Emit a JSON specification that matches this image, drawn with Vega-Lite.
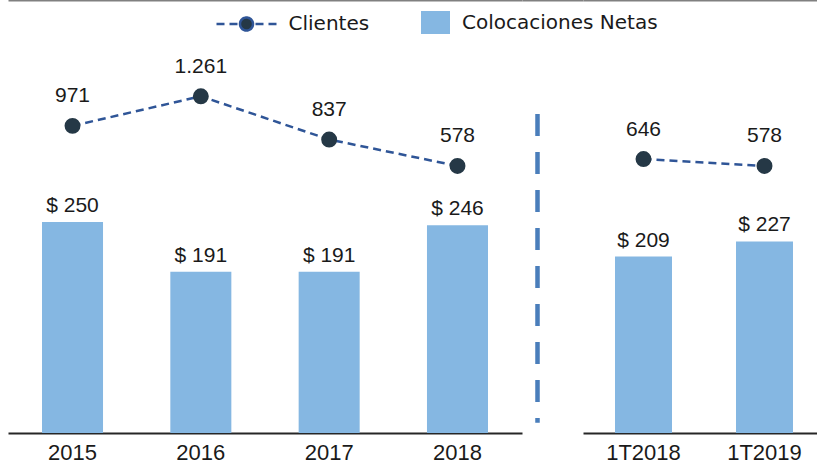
{
  "$schema": "https://vega.github.io/schema/vega-lite/v6.json",
  "padding": {"left": 8, "top": 0, "right": 0, "bottom": 0},
  "autosize": {"type": "pad"},
  "spacing": 0,
  "bounds": "flush",
  "config": {
    "view": {"stroke": null},
    "locale": {"number": {"decimal": ",", "thousands": ".", "grouping": [3], "currency": ["$ ", ""]}}
  },
  "datasets": {
    "anual": [
      {"periodo": "2015", "colocaciones": 250, "clientes": 971},
      {"periodo": "2016", "colocaciones": 191, "clientes": 1261},
      {"periodo": "2017", "colocaciones": 191, "clientes": 837},
      {"periodo": "2018", "colocaciones": 246, "clientes": 578}
    ],
    "trimestral": [
      {"periodo": "1T2018", "colocaciones": 209, "clientes": 646},
      {"periodo": "1T2019", "colocaciones": 227, "clientes": 578}
    ],
    "separador": [{"x": 15.5, "desde": 378, "hasta": 12}]
  },
  "hconcat": [
    {
      "width": 514,
      "height": 433,
      "data": {"name": "anual"},
      "resolve": {"scale": {"y": "independent"}, "axis": {"x": "independent"}},
      "layer": [
        {
          "mark": {"type": "bar"},
          "encoding": {
            "x": {"field": "periodo", "type": "nominal", "sort": null, "scale": {"paddingInner": 0.5245, "paddingOuter": 0.265},
                  "axis": {"orient": "bottom", "title": null, "labelAngle": 0, "ticks": false, "grid": false, "domainColor": "#262626", "domainWidth": 2, "labelFont": "Liberation Sans", "labelFontSize": 22, "labelColor": "#1a1a1a", "labelPadding": 9}},
            "y": {"field": "colocaciones", "type": "quantitative", "scale": {"domain": [0, 513], "nice": false}, "axis": null},
            "color": {"datum": "Colocaciones Netas", "type": "nominal", "scale": {"domain": ["Colocaciones Netas"], "range": ["#85B7E2"]},
                      "legend": {"orient": "none", "legendX": 415, "legendY": 10, "title": null, "symbolType": "M-1.16,-0.92H1.16V0.92H-1.16Z", "symbolSize": 625, "symbolStrokeWidth": 0, "labelFont": "DejaVu Sans", "labelFontSize": 20, "labelColor": "#1a1a1a", "labelOffset": 14, "labelLimit": 400}}
          }
        },
        {
          "mark": {"type": "text", "font": "Liberation Sans", "fontSize": 21, "color": "#1a1a1a", "baseline": "alphabetic", "dy": -10},
          "encoding": {
            "x": {"field": "periodo", "type": "nominal", "sort": null, "axis": null},
            "y": {"field": "colocaciones", "type": "quantitative", "scale": {"domain": [0, 513], "nice": false}, "axis": null},
            "text": {"field": "colocaciones", "type": "quantitative", "format": "$d"}
          }
        },
        {
          "mark": {"type": "line", "strokeWidth": 2.5, "strokeDash": [8, 5]},
          "encoding": {
            "x": {"field": "periodo", "type": "nominal", "sort": null,
                  "axis": {"orient": "top", "title": null, "labels": false, "ticks": false, "grid": false, "domainColor": "#808080", "domainWidth": 2}},
            "y": {"field": "clientes", "type": "quantitative", "scale": {"domain": [-2040, 2205], "nice": false}, "axis": null},
            "stroke": {"datum": "Clientes", "type": "nominal", "scale": {"domain": ["Clientes"], "range": ["#2F5597"]},
                       "legend": {"orient": "none", "legendX": 224.5, "legendY": 10, "title": null, "symbolType": "M-2.4,0H-1.76M-1.36,0H-0.72M0.72,0H1.36M1.76,0H2.4M0.52,0A0.52,0.52,0,1,1,-0.52,0A0.52,0.52,0,1,1,0.52,0Z", "symbolSize": 625, "symbolFillColor": "#253846", "symbolStrokeWidth": 2.5, "symbolDash": [1, 0], "labelFont": "DejaVu Sans", "labelFontSize": 20, "labelColor": "#1a1a1a", "labelOffset": 28, "labelLimit": 400}}
          }
        },
        {
          "mark": {"type": "point", "filled": true, "size": 254, "color": "#253846", "opacity": 1},
          "encoding": {
            "x": {"field": "periodo", "type": "nominal", "sort": null, "axis": null},
            "y": {"field": "clientes", "type": "quantitative", "scale": {"domain": [-2040, 2205], "nice": false}, "axis": null}
          }
        },
        {
          "mark": {"type": "text", "font": "Liberation Sans", "fontSize": 21, "color": "#1a1a1a", "baseline": "alphabetic", "dy": -23.5},
          "encoding": {
            "x": {"field": "periodo", "type": "nominal", "sort": null, "axis": null},
            "y": {"field": "clientes", "type": "quantitative", "scale": {"domain": [-2040, 2205], "nice": false}, "axis": null},
            "text": {"field": "clientes", "type": "quantitative", "format": ",d"}
          }
        }
      ]
    },
    {
      "width": 61,
      "height": 433,
      "data": {"name": "separador"},
      "mark": {"type": "rule", "color": "#4A7EBB", "strokeWidth": 4.5, "strokeDash": [22, 16]},
      "encoding": {
        "x": {"field": "x", "type": "quantitative", "scale": {"domain": [0, 61], "nice": false, "zero": false},
              "axis": {"orient": "top", "title": null, "labels": false, "ticks": false, "grid": false, "domainColor": "#808080", "domainWidth": 2}},
        "y": {"field": "desde", "type": "quantitative", "scale": {"domain": [0, 513], "nice": false}, "axis": null},
        "y2": {"field": "hasta"}
      }
    },
    {
      "width": 234,
      "height": 433,
      "data": {"name": "trimestral"},
      "resolve": {"scale": {"y": "independent"}, "axis": {"x": "independent"}},
      "layer": [
        {
          "mark": {"type": "bar", "xOffset": 4},
          "encoding": {
            "x": {"field": "periodo", "type": "nominal", "sort": null, "scale": {"paddingInner": 0.529, "paddingOuter": 0.2315},
                  "axis": {"orient": "bottom", "title": null, "labelAngle": 0, "ticks": false, "grid": false, "domainColor": "#262626", "domainWidth": 2, "labelFont": "Liberation Sans", "labelFontSize": 22, "labelColor": "#1a1a1a", "labelPadding": 9, "labelOffset": 4}},
            "y": {"field": "colocaciones", "type": "quantitative", "scale": {"domain": [0, 513], "nice": false}, "axis": null},
            "color": {"datum": "Colocaciones Netas", "type": "nominal", "scale": {"domain": ["Colocaciones Netas"], "range": ["#85B7E2"]},
                      "legend": {"orient": "none", "legendX": 415, "legendY": 10, "title": null, "symbolType": "M-1.16,-0.92H1.16V0.92H-1.16Z", "symbolSize": 625, "symbolStrokeWidth": 0, "labelFont": "DejaVu Sans", "labelFontSize": 20, "labelColor": "#1a1a1a", "labelOffset": 14, "labelLimit": 400}}
          }
        },
        {
          "mark": {"type": "text", "font": "Liberation Sans", "fontSize": 21, "color": "#1a1a1a", "baseline": "alphabetic", "dy": -10, "xOffset": 4},
          "encoding": {
            "x": {"field": "periodo", "type": "nominal", "sort": null, "axis": null},
            "y": {"field": "colocaciones", "type": "quantitative", "scale": {"domain": [0, 513], "nice": false}, "axis": null},
            "text": {"field": "colocaciones", "type": "quantitative", "format": "$d"}
          }
        },
        {
          "mark": {"type": "line", "strokeWidth": 2.5, "strokeDash": [8, 5], "xOffset": 4},
          "encoding": {
            "x": {"field": "periodo", "type": "nominal", "sort": null,
                  "axis": {"orient": "top", "title": null, "labels": false, "ticks": false, "grid": false, "domainColor": "#808080", "domainWidth": 2}},
            "y": {"field": "clientes", "type": "quantitative", "scale": {"domain": [-2040, 2205], "nice": false}, "axis": null},
            "stroke": {"datum": "Clientes", "type": "nominal", "scale": {"domain": ["Clientes"], "range": ["#2F5597"]},
                       "legend": {"orient": "none", "legendX": 224.5, "legendY": 10, "title": null, "symbolType": "M-2.4,0H-1.76M-1.36,0H-0.72M0.72,0H1.36M1.76,0H2.4M0.52,0A0.52,0.52,0,1,1,-0.52,0A0.52,0.52,0,1,1,0.52,0Z", "symbolSize": 625, "symbolFillColor": "#253846", "symbolStrokeWidth": 2.5, "symbolDash": [1, 0], "labelFont": "DejaVu Sans", "labelFontSize": 20, "labelColor": "#1a1a1a", "labelOffset": 28, "labelLimit": 400}}
          }
        },
        {
          "mark": {"type": "point", "filled": true, "size": 254, "color": "#253846", "opacity": 1, "xOffset": 4},
          "encoding": {
            "x": {"field": "periodo", "type": "nominal", "sort": null, "axis": null},
            "y": {"field": "clientes", "type": "quantitative", "scale": {"domain": [-2040, 2205], "nice": false}, "axis": null}
          }
        },
        {
          "mark": {"type": "text", "font": "Liberation Sans", "fontSize": 21, "color": "#1a1a1a", "baseline": "alphabetic", "dy": -23.5, "xOffset": 4},
          "encoding": {
            "x": {"field": "periodo", "type": "nominal", "sort": null, "axis": null},
            "y": {"field": "clientes", "type": "quantitative", "scale": {"domain": [-2040, 2205], "nice": false}, "axis": null},
            "text": {"field": "clientes", "type": "quantitative", "format": ",d"}
          }
        }
      ]
    }
  ]
}
